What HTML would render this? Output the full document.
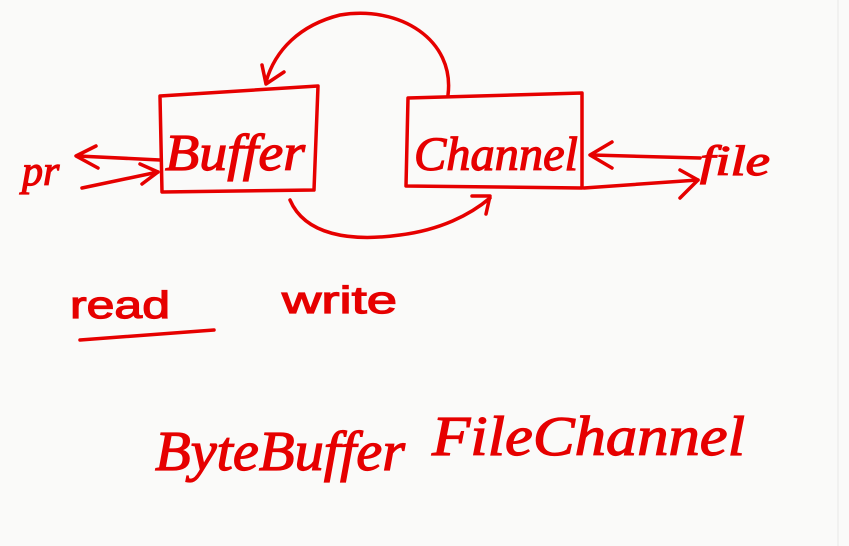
<!DOCTYPE html>
<html><head><style>
html,body{margin:0;padding:0;background:#fafaf9;}
svg{display:block}
text{font-family:"Liberation Sans",sans-serif;fill:#e60000;font-style:italic}
</style></head><body>
<svg width="849" height="546" viewBox="0 0 849 546" xmlns="http://www.w3.org/2000/svg">
<rect width="849" height="546" fill="#fafaf9"/>
<line x1="838" y1="0" x2="838" y2="546" stroke="#e8e8e8" stroke-width="1"/>
<g fill="none" stroke="#e60000" stroke-width="3.5" stroke-linecap="round" stroke-linejoin="round">
<path d="M160 96 L318 86 L314 190 L162 192 Z"/>
<path d="M408 98 L582 93 L582 188 L406 186 Z"/>
<path d="M448 95 C455 40 400 5 340 15 C300 25 275 50 266 82"/>
<path d="M262 65 L266 84 L284 72"/>
<path d="M290 200 C305 235 350 242 400 235 C440 230 470 215 490 198"/>
<path d="M472 196 L490 196 L486 214"/>
<path d="M160 160 L78 156"/>
<path d="M96 146 L76 156 L98 168"/>
<path d="M82 188 L158 172"/>
<path d="M140 164 L158 172 L142 184"/>
<path d="M700 158 L592 155"/>
<path d="M612 142 L590 155 L612 168"/>
<path d="M584 188 L698 180"/>
<path d="M680 170 L698 180 L680 198"/>
<path d="M80 340 L214 330"/>
</g>
<g stroke="#e60000" stroke-width="1.2">
<text x="165" y="170" font-size="52" textLength="140" lengthAdjust="spacingAndGlyphs" style="font-family:'Liberation Serif',serif">Buffer</text>
<text x="414" y="170" font-size="48" textLength="164" lengthAdjust="spacingAndGlyphs" style="font-family:'Liberation Serif',serif">Channel</text>
<text x="22" y="185" font-size="42" style="font-family:'Liberation Serif',serif">pr</text>
<text x="700" y="175" font-size="42" textLength="70" lengthAdjust="spacingAndGlyphs" style="font-family:'Liberation Serif',serif">file</text>
<text x="70" y="318" font-size="38" textLength="100" lengthAdjust="spacingAndGlyphs" style="font-style:normal">read</text>
<text x="282" y="313" font-size="38" textLength="115" lengthAdjust="spacingAndGlyphs" style="font-style:normal">write</text>
<text x="155" y="470" font-size="56" textLength="250" lengthAdjust="spacingAndGlyphs" style="font-family:'Liberation Serif',serif">ByteBuffer</text>
<text x="432" y="455" font-size="56" textLength="313" lengthAdjust="spacingAndGlyphs" style="font-family:'Liberation Serif',serif">FileChannel</text>
</g>
</svg>
</body></html>
